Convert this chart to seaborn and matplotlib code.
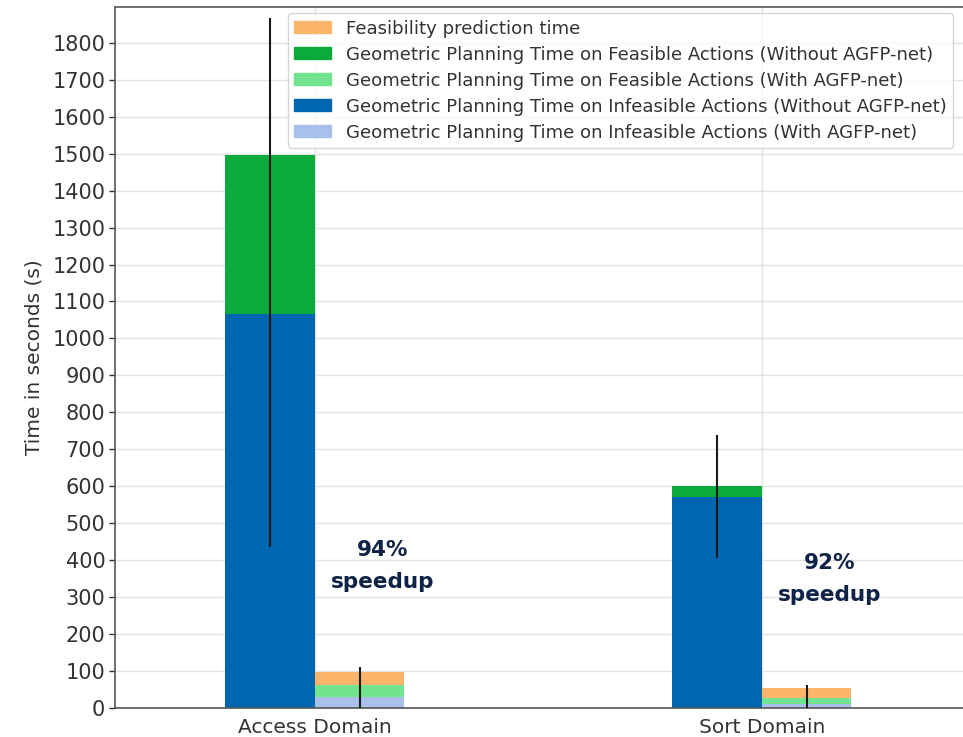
import matplotlib
matplotlib.use("Agg")
import matplotlib.pyplot as plt
from matplotlib.patches import Patch
import numpy as np
import pandas as pd
import seaborn as sns

categories = ["Access Domain", "Sort Domain"]
infeas_without = [1065, 570]
feas_without = [430, 30]
infeas_with = [30, 10]
feas_with = [32, 17]
pred_time = [35, 27]
err_without_low = [436, 406]
err_without_high = [1868, 739]
err_with_low = [0, 0]
err_with_high = [111, 62]
speedups = ["94%\nspeedup", "92%\nspeedup"]

c_pred = "#fdb46b"
c_feas_wo = "#0aab3c"
c_feas_w = "#72e38f"
c_inf_wo = "#0066b0"
c_inf_w = "#a9c1ea"

sns.set_theme(style="whitegrid")
plt.rcParams['font.family'] = ['DejaVu Sans']

fig = plt.figure(figsize=(9.63, 7.37), dpi=100)
ax = fig.add_axes([0.1195, 0.0394, 0.8805, 0.9512])

pos = np.arange(len(categories))
w = 0.2
x_wo = pos - w / 2
x_w = pos + w / 2

def draw(xs, heights, color):
    df = pd.DataFrame({"x": xs, "y": heights})
    sns.barplot(data=df, x="x", y="y", native_scale=True, width=w, color=color,
                saturation=1, linewidth=0, ax=ax, errorbar=None, zorder=2)

# Without AGFP-net: stacked via cumulative overlay
tot_wo = np.array(infeas_without) + np.array(feas_without)
draw(x_wo, tot_wo, c_feas_wo)
draw(x_wo, np.array(infeas_without), c_inf_wo)

tot_w = np.array(infeas_with) + np.array(feas_with) + np.array(pred_time)
draw(x_w, tot_w, c_pred)
draw(x_w, np.array(infeas_with) + np.array(feas_with), c_feas_w)
draw(x_w, np.array(infeas_with), c_inf_w)

ax.vlines(x_wo, err_without_low, err_without_high, color="#1a1a1a", lw=1.5, zorder=4)
ax.vlines(x_w, err_with_low, err_with_high, color="#1a1a1a", lw=1.5, zorder=4)

for i, t in enumerate(speedups):
    ypos = [384, 349][i]
    ax.text(pos[i] + 0.152, ypos, t, ha="center", va="center", fontsize=15.5,
            fontweight="bold", color="#0f2346", family=["DejaVu Sans"],
            linespacing=1.7, zorder=5)

ax.set_xlim(-0.447, 1.45)
ax.set_ylim(0, 1897)
ax.set_yticks(range(0, 1900, 100))
ax.set_xticks(pos)
ax.set_xticklabels(categories)
ax.set_xlabel("")
ax.set_ylabel("Time in seconds (s)", fontsize=14.5, color="#333333", labelpad=6)
ax.tick_params(axis="y", labelsize=15, colors="#333333", length=4, width=1, left=True, pad=3)
ax.tick_params(axis="x", labelsize=14.5, colors="#333333", length=4, width=1, pad=3)
ax.set_facecolor("white")
ax.grid(True, color="#e3e3e3", lw=1, zorder=0)
ax.set_axisbelow(True)
for s in ["left", "bottom", "top"]:
    ax.spines[s].set_color("#555555")
    ax.spines[s].set_linewidth(1.2)
ax.spines["right"].set_visible(False)

handles = [
    Patch(color=c_pred, label="Feasibility prediction time"),
    Patch(color=c_feas_wo, label="Geometric Planning Time on Feasible Actions (Without AGFP-net)"),
    Patch(color=c_feas_w, label="Geometric Planning Time on Feasible Actions (With AGFP-net)"),
    Patch(color=c_inf_wo, label="Geometric Planning Time on Infeasible Actions (Without AGFP-net)"),
    Patch(color=c_inf_w, label="Geometric Planning Time on Infeasible Actions (With AGFP-net)"),
]
leg = ax.legend(handles=handles, loc="upper left", bbox_to_anchor=(0.204, 0.991),
                borderaxespad=0, fontsize=13.1, frameon=True, handlelength=2.0,
                handleheight=0.65, labelspacing=0.44, borderpad=0.35, handletextpad=0.85)
leg.get_frame().set_edgecolor("#cccccc")
for t in leg.get_texts():
    t.set_color("#333333")

fig.savefig("out.png", dpi=100)
